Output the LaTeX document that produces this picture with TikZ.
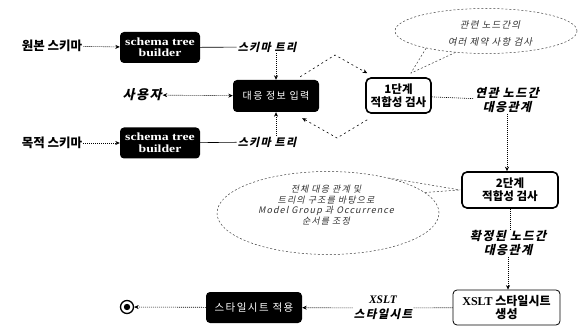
\documentclass[tikz,border=0pt]{standalone}
\usepackage{fontspec}
\setmainfont{Liberation Serif}
\newfontfamily\kr{Noto Sans CJK KR}
\newfontfamily\krsp{Noto Sans CJK KR}[LetterSpace=14]
\newfontfamily\krit{Noto Sans CJK KR}[FakeSlant=0.22,LetterSpace=12]
\newfontfamily\serwide{Liberation Serif}[FakeStretch=1.25]
\usetikzlibrary{arrows.meta,shapes.geometric}
\begin{document}
\begin{tikzpicture}[x=1pt,y=-1pt,
  blackbox/.style={fill=black, rounded corners=4pt, text=white, align=center, inner sep=0pt},
  stagebox/.style={draw, line width=1.6pt, rounded corners=5pt, fill=white, align=center, inner sep=0pt,
     font=\kr\bfseries\fontsize{11.5}{13}\selectfont},
  lbl/.style={font=\krit\bfseries\fontsize{12}{14}\selectfont, align=center, inner sep=1pt},
  plainlbl/.style={font=\kr\bfseries\fontsize{12.5}{14}\selectfont, inner sep=1pt},
  note/.style={font=\krit\fontsize{9.5}{17}\selectfont, align=center, inner sep=0pt, text=black!80},
  callout/.style={draw=black!75, dash pattern=on 2pt off 2pt, line width=0.5pt},
  dot/.style={dash pattern=on 1pt off 1pt, line width=0.6pt},
  darr/.style={dot, -{Stealth[length=4.5pt,width=4pt]}},
  loopline/.style={dash pattern=on 2pt off 3pt, line width=0.6pt},
  loopar/.style={loopline, -{Stealth[length=4.5pt,width=4pt]}}]
\fill[white] (0,0) rectangle (585,328);
\useasboundingbox (0,0) rectangle (585,328);

% left inputs
\node[plainlbl] (src) at (52,46) {원본 스키마};
\node[plainlbl] (dst) at (52,143) {목적 스키마};
\node[blackbox, minimum width=80pt, minimum height=31pt,
      font=\serwide\bfseries\fontsize{11}{11.5}\selectfont] (b1) at (160,47.5) {schema tree\\builder};
\node[blackbox, minimum width=80pt, minimum height=31pt,
      font=\serwide\bfseries\fontsize{11}{11.5}\selectfont] (b2) at (160,143) {schema tree\\builder};
\node[lbl, font=\krit\bfseries\fontsize{11}{13}\selectfont] (t1) at (267,47) {스키마 트리};
\node[lbl, font=\krit\bfseries\fontsize{11}{13}\selectfont] (t2) at (267,142) {스키마 트리};
\node[lbl, font=\krit\bfseries\fontsize{13}{15}\selectfont] (user) at (142,95) {사용자};
\node[blackbox, minimum width=86pt, minimum height=32pt,
      font=\krsp\fontsize{10}{12}\selectfont] (map) at (276,96) {대응 정보 입력};

% stage 1
\node[stagebox, minimum width=65pt, minimum height=35pt] (s1) at (398.5,95.5) {1단계\\적합성 검사};
\node[draw=black!75, dash pattern=on 2pt off 2pt, line width=0.5pt, ellipse,
      minimum width=182pt, minimum height=45pt, inner sep=0pt] (e1) at (486,31) {};
\node[note] (n1) at (490,33.5) {관련 노드간의\\여러 제약 사항 검사};
\node[lbl] (t3) at (507,100) {연관 노드간\\대응관계};

% stage 2
\node[stagebox, minimum width=96pt, minimum height=36pt] (s2) at (510,190) {2단계\\적합성 검사};
\node[draw=black!75, dash pattern=on 2pt off 2pt, line width=0.5pt, ellipse,
      minimum width=222pt, minimum height=83pt, inner sep=0pt] (e2) at (328,213) {};
\node[note, font=\krit\fontsize{9}{10.5}\selectfont] (n2) at (326,205)
  {전체 대응 관계 및\\트리의 구조를 바탕으로\\Model Group 과 Occurrence\\순서를 조정};
\node[lbl] (t4) at (508,243) {확정된 노드간\\대응관계};

% bottom row
\node[draw, line width=0.8pt, rounded corners=4pt, fill=white, align=center, inner sep=0pt,
      minimum width=107pt, minimum height=35pt,
      font=\kr\bfseries\fontsize{12}{13.5}\selectfont] (x1) at (506.5,307.5) {{\rmfamily XSLT} 스타일시트\\생성};
\node[lbl, font=\krit\bfseries\fontsize{11.5}{15}\selectfont] (t5) at (383,308) {{\rmfamily\itshape XSLT}\\스타일시트};
\node[blackbox, minimum width=96pt, minimum height=31pt,
      font=\krsp\fontsize{10.5}{12}\selectfont] (apply) at (254,307.5) {스타일시트 적용};
\node[circle, draw, line width=1.3pt, minimum size=13pt, inner sep=0pt] (end) at (127,307) {};
\fill (end.center) circle (3.2pt);

% connectors: inputs
\draw[darr] (src) -- (b1);
\draw[darr] (dst) -- (b2);
\draw[line width=0.6pt] (b1) -- (t1);
\draw[line width=0.6pt] (b2) -- (t2);
\draw[darr] (map.north |- t1.south) -- (map.north);
\draw[darr] (map.south |- t2.north) -- (map.south);
\draw[dot, {Stealth[length=4.5pt,width=4pt]}-{Stealth[length=4.5pt,width=4pt]}] (user) -- (map);

% loop between input and stage 1
\coordinate (pk1) at (335,55);
\coordinate (pk2) at (337,138);
\draw[loopar] ([xshift=-19pt,yshift=3pt]map.north east) -- (pk1) -- ([xshift=2pt,yshift=4pt]s1.north west);
\draw[loopar] ([xshift=2pt,yshift=-6pt]s1.south west) -- (pk2) -- ([xshift=-17pt,yshift=-6pt]map.south east);

% callout of top ellipse
\coordinate (tip1) at ([xshift=-21pt,yshift=4pt]s1.north east);
\draw[callout] (e1.196) -- (tip1);
\draw[callout] (e1.215) -- (tip1);

% stage 1 -> stage 2
\draw[dot] (s1) -- (t3);
\draw[darr] (t3.south) -- (t3.south |- s2.north);

% callout of lower ellipse
\coordinate (tip2) at ([xshift=-1pt]s2.west);
\draw[callout] (e2.30) -- (tip2);
\draw[callout] (e2.12) -- (tip2);

% stage 2 -> XSLT
\draw[dot] (s2.south) -- (s2.south |- t4.north);
\draw[darr] (t4.south) -- (t4.south |- x1.north);

% bottom row
\draw[dot] (x1) -- (t5);
\draw[darr] (t5) -- (apply);
\draw[darr] (apply) -- (end);
\end{tikzpicture}
\end{document}
